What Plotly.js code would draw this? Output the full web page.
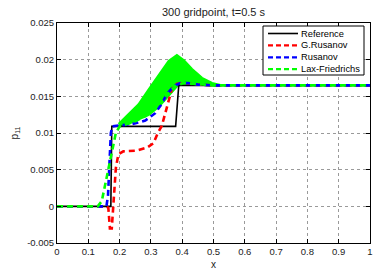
<!DOCTYPE html>
<html>
<head>
<meta charset="utf-8">
<script src="https://cdn.plot.ly/plotly-3.0.1.min.js"></script>
<style>html,body{margin:0;padding:0;background:#fff;}#chart{width:387px;height:270px;}</style>
</head>
<body>
<div id="chart"></div>
<script>
// ---- data ----
const refX = [0, 0.172, 0.175, 0.379, 0.389, 1];
const refY = [0, 0, 0.0109, 0.0109, 0.0165, 0.0165];

const gRusX = [0, 0.158, 0.164, 0.169, 0.175, 0.180, 0.188, 0.196, 0.212, 0.255, 0.287, 0.308, 0.322, 0.335, 0.346, 0.357, 0.367, 0.383, 0.41, 0.45, 0.5, 1];
const gRusY = [0, 0, -0.0002, -0.003, -0.003, 0.0007, 0.0052, 0.0071, 0.0075, 0.0076, 0.0080, 0.0086, 0.0100, 0.0110, 0.0127, 0.0146, 0.0160, 0.0167, 0.0168, 0.0166, 0.0165, 0.0165];

const rusX = [0, 0.158, 0.163, 0.168, 0.172, 0.177, 0.19, 0.24, 0.282, 0.314, 0.335, 0.351, 0.373, 0.394, 0.42, 0.45, 0.5, 1];
const rusY = [0, 0, 0.0015, 0.0070, 0.0100, 0.0109, 0.0110, 0.0112, 0.0117, 0.0127, 0.0140, 0.0153, 0.0164, 0.0168, 0.0168, 0.0166, 0.0165, 0.0165];

const lfX = [0, 0.130, 0.143, 0.159, 0.175, 0.188, 0.200, 0.250, 0.282, 0.314, 0.346, 0.378, 0.405, 0.45, 0.5, 1];
const lfY = [0, 0, 0.0007, 0.0039, 0.0075, 0.0100, 0.0109, 0.0116, 0.0123, 0.0134, 0.0150, 0.0164, 0.0168, 0.0167, 0.0165, 0.0165];

// odd/even oscillation band of the Lax-Friedrichs solution
const lfBandX     = [0.197, 0.229, 0.261, 0.293, 0.325, 0.357, 0.383, 0.405, 0.431, 0.463, 0.495, 0.522];
const lfBandUpper = [0.0112, 0.0125, 0.0139, 0.0159, 0.0178, 0.0198, 0.0206, 0.0199, 0.0187, 0.0175, 0.0168, 0.0166];
const lfBandLower = [0.0109, 0.0113, 0.0119, 0.0125, 0.0136, 0.0152, 0.0164, 0.0168, 0.0167, 0.0166, 0.0165, 0.0165];

const seriesNames = ['Reference', 'G.Rusanov', 'Rusanov', 'Lax-Friedrichs'];

const xTickVals = [0, 0.1, 0.2, 0.3, 0.4, 0.5, 0.6, 0.7, 0.8, 0.9, 1];
const xTickText = ['0', '0.1', '0.2', '0.3', '0.4', '0.5', '0.6', '0.7', '0.8', '0.9', '1'];
const yTickVals = [-0.005, 0, 0.005, 0.01, 0.015, 0.02, 0.025];
const yTickText = ['-0.005', '0', '0.005', '0.01', '0.015', '0.02', '0.025'];

// ---- styles ----
const colors = ['#000000', '#ff0000', '#0000ff', '#00ff00'];
const dashes = ['solid', '6px,4px', '6px,4px', '6px,4px'];
const FONT = 'Liberation Sans, Arial, Helvetica, sans-serif';

const bandTrace = {
  x: lfBandX.concat(lfBandX.slice().reverse()),
  y: lfBandUpper.concat(lfBandLower.slice().reverse()),
  mode: 'lines', fill: 'toself', fillcolor: '#00ff00',
  line: {color: '#00ff00', width: 2.5}, showlegend: false, hoverinfo: 'skip'
};

const seriesX = [refX, gRusX, rusX, lfX];
const seriesY = [refY, gRusY, rusY, lfY];
const lineTraces = seriesNames.map((n, i) => ({
  x: seriesX[i], y: seriesY[i], name: n, mode: 'lines',
  line: {color: colors[i], width: i === 0 ? 1.6 : 2.6, dash: dashes[i]},
  showlegend: false
}));

// manual MATLAB-like legend (pixel helpers -> paper coordinates)
const L = 57, R = 370, T = 23, B = 243;
const px = v => (v - L) / (R - L);
const py = v => (B - v) / (B - T);
const shapes = [{
  type: 'rect', xref: 'paper', yref: 'paper',
  x0: px(263), x1: px(364), y0: py(75), y1: py(26),
  line: {color: '#000', width: 1}, fillcolor: '#fff', layer: 'above'
}];
const annotations = [];
seriesNames.forEach((n, i) => {
  const rowY = 33.5 + i * 11.9;
  shapes.push({
    type: 'line', xref: 'paper', yref: 'paper',
    x0: px(268), x1: px(298), y0: py(rowY), y1: py(rowY),
    line: {color: colors[i], width: i === 0 ? 1.6 : 2.2, dash: i === 0 ? 'solid' : '5px,3px'},
    layer: 'above'
  });
  annotations.push({
    xref: 'paper', yref: 'paper', x: px(299), y: py(rowY),
    xanchor: 'left', yanchor: 'middle', text: n, showarrow: false,
    font: {family: FONT, size: 9.3, color: '#000'}
  });
});

const axisCommon = {
  showline: true, linecolor: '#000', linewidth: 1, mirror: 'ticks',
  ticks: 'inside', ticklen: 4, tickcolor: '#000', tickwidth: 1,
  showgrid: true, gridcolor: '#9a9a9a', griddash: 'dot', gridwidth: 1,
  zeroline: false, tickfont: {family: FONT, size: 9.5, color: '#222'}
};

const layout = {
  width: 387, height: 270,
  margin: {l: L, r: 387 - R, t: T, b: 270 - B, pad: 0},
  paper_bgcolor: '#fff', plot_bgcolor: '#fff',
  font: {family: FONT, size: 10, color: '#222'},
  title: {text: '300 gridpoint, t=0.5 s', font: {family: FONT, size: 11, color: '#222'},
          x: 0.5 * (L + R) / 387, xanchor: 'center', y: 1 - 12.5 / 270, yanchor: 'middle'},
  xaxis: Object.assign({}, axisCommon, {
    range: [0, 1], tickvals: xTickVals, ticktext: xTickText,
    title: {text: 'x', font: {family: FONT, size: 10, color: '#222'}, standoff: 4}
  }),
  yaxis: Object.assign({}, axisCommon, {
    range: [-0.005, 0.025], tickvals: yTickVals, ticktext: yTickText,
    title: {text: 'p<sub>11</sub>', font: {family: FONT, size: 10, color: '#222'}, standoff: 6}
  }),
  shapes: shapes, annotations: annotations, showlegend: false
};

Plotly.newPlot('chart', [bandTrace].concat(lineTraces), layout, {staticPlot: true, displayModeBar: false});
</script>
</body>
</html>
